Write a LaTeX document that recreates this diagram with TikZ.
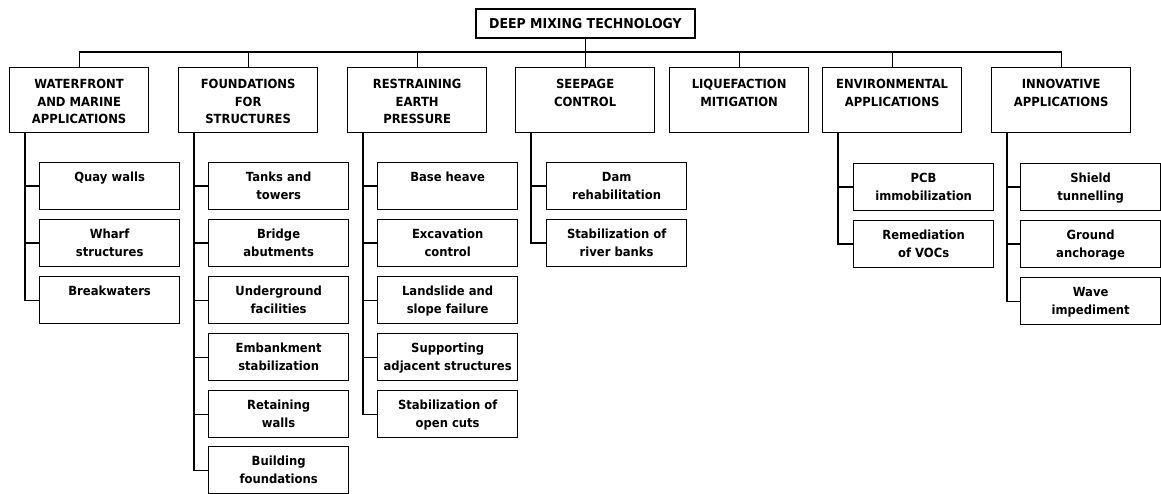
\documentclass[tikz,border=0pt]{standalone}
\usepackage{fontspec}
\setmainfont{DejaVu Sans}[FakeStretch=0.92]
\tikzset{
  txt/.style={font=\bfseries\fontsize{12.6}{17.5}\selectfont},
  bx/.style={txt, draw, line width=1.3pt, inner sep=0pt, anchor=north west},
  ln/.style={line width=1.3pt},
}
\newcommand\topbox[4]{\node[bx] (#1) at (#2,-#3) {\parbox[c][65pt][t]{139pt}{\centering\rule{0pt}{21pt}#4}};}
\newcommand\subbox[4]{\node[bx] (#1) at (#2,-#3) {\parbox[c][47pt][t]{140pt}{\centering\rule{0pt}{19pt}#4}};}
\begin{document}
\begin{tikzpicture}[x=1pt,y=1pt]
\useasboundingbox (0,0) rectangle (1161,-494);
% root
\node[draw, line width=1.3pt, inner sep=0pt, minimum width=219pt, minimum height=29pt,
      font=\bfseries\fontsize{13.6}{15}\selectfont] (root) at (585.5,-23.5) {DEEP MIXING TECHNOLOGY};
% top level
\topbox{W}{9}{67}{WATERFRONT\\AND MARINE\\APPLICATIONS}
\topbox{F}{178}{67}{FOUNDATIONS\\FOR\\STRUCTURES}
\topbox{R}{347}{67}{RESTRAINING\\EARTH\\PRESSURE}
\topbox{S}{515}{67}{SEEPAGE\\CONTROL}
\topbox{L}{669}{67}{LIQUEFACTION\\MITIGATION}
\topbox{E}{822}{67}{ENVIRONMENTAL\\APPLICATIONS}
\topbox{I}{991}{67}{INNOVATIVE\\APPLICATIONS}
% bus
\coordinate (busy) at (0,-52);
\draw[ln] (root.south) -- (root.south |- busy);
\draw[ln] (W.north) -- (W.north |- busy) -- (I.north |- busy) -- (I.north);
\foreach \n in {F,R,S,L,E} {\draw[ln] (\n.north) -- (\n.north |- busy);}
% waterfront children
\subbox{W1}{39}{162}{Quay walls}
\subbox{W2}{39}{219}{Wharf\\structures}
\subbox{W3}{39}{276}{Breakwaters}
% foundations children
\subbox{F1}{208}{162}{Tanks and\\towers}
\subbox{F2}{208}{219}{Bridge\\abutments}
\subbox{F3}{208}{276}{Underground\\facilities}
\subbox{F4}{208}{333}{Embankment\\stabilization}
\subbox{F5}{208}{390}{Retaining\\walls}
\subbox{F6}{208}{446}{Building\\foundations}
% restraining children
\subbox{R1}{377}{162}{Base heave}
\subbox{R2}{377}{219}{Excavation\\control}
\subbox{R3}{377}{276}{Landslide and\\slope failure}
\subbox{R4}{377}{333}{Supporting\\adjacent structures}
\subbox{R5}{377}{390}{Stabilization of\\open cuts}
% seepage children
\subbox{S1}{546}{162}{Dam\\rehabilitation}
\subbox{S2}{546}{219}{Stabilization of\\river banks}
% environmental children
\subbox{E1}{853}{163}{PCB\\immobilization}
\subbox{E2}{853}{220}{Remediation\\of VOCs}
% innovative children
\subbox{I1}{1020}{163}{Shield\\tunnelling}
\subbox{I2}{1020}{220}{Ground\\anchorage}
\subbox{I3}{1020}{277}{Wave\\impediment}
% column connectors
\foreach \p/\last/\others in {W/W3/{W1,W2}, F/F6/{F1,F2,F3,F4,F5}, R/R5/{R1,R2,R3,R4}, S/S2/{S1}, E/E2/{E1}, I/I3/{I1,I2}} {
  \coordinate (\p v) at ([xshift=16pt]\p.south west);
  \draw[ln] (\p v) |- (\last.west);
  \foreach \c in \others {\draw[ln] (\c.west) -- (\c.west -| \p v);}
}
\end{tikzpicture}
\end{document}
